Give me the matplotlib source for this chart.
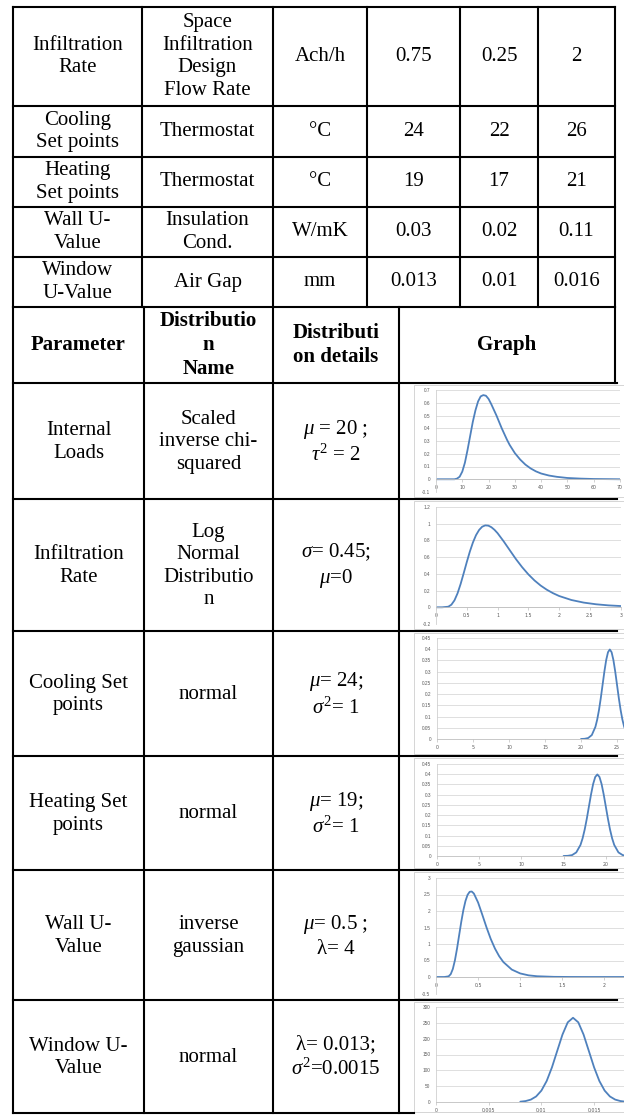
import matplotlib
matplotlib.use('Agg')
import matplotlib.pyplot as plt
from matplotlib.patches import Rectangle

plt.rcParams['mathtext.fontset'] = 'custom'
plt.rcParams['mathtext.rm'] = 'Liberation Serif'
plt.rcParams['mathtext.it'] = 'Liberation Serif:italic'

# ---------------- data ----------------
top_params = ["Infiltration\nRate", "Cooling\nSet points", "Heating\nSet points", "Wall U-\nValue", "Window\nU-Value"]
top_objects = ["Space\nInfiltration\nDesign\nFlow Rate", "Thermostat", "Thermostat", "Insulation\nCond.", "Air Gap"]
top_units = ["Ach/h", "°C", "°C", "W/mK", "mm"]
top_base = ["0.75", "24", "19", "0.03", "0.013"]
top_min = ["0.25", "22", "17", "0.02", "0.01"]
top_max = ["2", "26", "21", "0.11", "0.016"]

header = ["Parameter", "Distributio\nn\nName", "Distributi\non details", "Graph"]
dist_params = ["Internal\nLoads", "Infiltration\nRate", "Cooling Set\npoints", "Heating Set\npoints",
               "Wall U-\nValue", "Window U-\nValue"]
dist_names = ["Scaled\ninverse chi-\nsquared", "Log\nNormal\nDistributio\nn", "normal", "normal",
              "inverse\ngaussian", "normal"]
dist_details = [r"$\mu$ = 20 ;" + "\n" + r"$\tau^2$ = 2",
                r"$\sigma$= 0.45;" + "\n" + r"$\mu$=0",
                r"$\mu$= 24;" + "\n" + r"$\sigma^2$= 1",
                r"$\mu$= 19;" + "\n" + r"$\sigma^2$= 1",
                r"$\mu$= 0.5 ;" + "\n" + "λ= 4",
                "λ= 0.013;" + "\n" + r"$\sigma^2$=0.0015"]

# curves
g1_x = [0, 4, 7, 8, 9, 10, 11, 12, 13, 14, 15, 16, 17, 18, 19, 20, 21, 22, 23, 24, 25, 26, 27, 28,
        30, 32, 34, 36, 38, 40, 43, 46, 50, 55, 60, 65, 70]
g1_y = [0, 0, 0, 0.005, 0.02, 0.06, 0.13, 0.23, 0.34, 0.45, 0.54, 0.61, 0.65, 0.66, 0.655, 0.63, 0.59,
        0.545, 0.5, 0.45, 0.40, 0.355, 0.31, 0.27, 0.205, 0.155, 0.115, 0.085, 0.062, 0.045, 0.029,
        0.019, 0.01, 0.005, 0.002, 0.001, 0]

g2_x = [0, 0.1, 0.2, 0.25, 0.3, 0.35, 0.4, 0.45, 0.5, 0.55, 0.6, 0.65, 0.7, 0.75, 0.8, 0.85, 0.9, 0.95,
        1.0, 1.1, 1.2, 1.3, 1.4, 1.5, 1.6, 1.7, 1.8, 1.9, 2.0, 2.2, 2.4, 2.6, 2.8, 3.0]
g2_y = [0, 0, 0.007, 0.031, 0.083, 0.167, 0.279, 0.408, 0.541, 0.667, 0.776, 0.863, 0.925, 0.964,
        0.980, 0.977, 0.958, 0.927, 0.887, 0.788, 0.681, 0.575, 0.479, 0.394, 0.321, 0.260, 0.210,
        0.169, 0.135, 0.087, 0.056, 0.036, 0.023, 0.015]

g3_x = [20, 20.5, 21, 21.5, 22, 22.25, 22.5, 22.75, 23, 23.25, 23.5, 23.75, 24, 24.25, 24.5, 24.75,
        25, 25.25, 25.5, 25.75, 26, 26.5, 27, 27.5, 28]
g3_y = [0.0001, 0.0009, 0.0044, 0.0175, 0.054, 0.0863, 0.1295, 0.1826, 0.242, 0.3011, 0.3521, 0.3867,
        0.3989, 0.3867, 0.3521, 0.3011, 0.242, 0.1826, 0.1295, 0.0863, 0.054, 0.0175, 0.0044, 0.0009,
        0.0001]

g4_x = [15, 15.5, 16, 16.5, 17, 17.25, 17.5, 17.75, 18, 18.25, 18.5, 18.75, 19, 19.25, 19.5, 19.75,
        20, 20.25, 20.5, 20.75, 21, 21.5, 22, 22.5, 23]
g4_y = [0.0001, 0.0009, 0.0044, 0.0175, 0.054, 0.0863, 0.1295, 0.1826, 0.242, 0.3011, 0.3521, 0.3867,
        0.3989, 0.3867, 0.3521, 0.3011, 0.242, 0.1826, 0.1295, 0.0863, 0.054, 0.0175, 0.0044, 0.0009,
        0.0001]

g5_x = [0, 0.1, 0.15, 0.175, 0.2, 0.225, 0.25, 0.275, 0.3, 0.325, 0.35, 0.375, 0.4, 0.425, 0.45, 0.5,
        0.55, 0.6, 0.65, 0.7, 0.75, 0.8, 0.9, 1.0, 1.1, 1.2, 1.4, 1.6, 1.8, 2.0, 2.5]
g5_y = [0, 0, 0.02, 0.087, 0.244, 0.509, 0.864, 1.269, 1.671, 2.027, 2.304, 2.490, 2.582, 2.590, 2.528,
        2.257, 1.886, 1.503, 1.154, 0.863, 0.631, 0.453, 0.225, 0.108, 0.050, 0.023, 0.005, 0.001, 0, 0, 0]

g6_x = [0.008, 0.0085, 0.009, 0.0095, 0.010, 0.0105, 0.011, 0.0115, 0.012, 0.0125, 0.013, 0.0135,
        0.014, 0.0145, 0.015, 0.0155, 0.016, 0.0165, 0.017, 0.0175, 0.018]
g6_y = [1.0, 2.95, 7.6, 17.5, 36.0, 66.3, 109.3, 161.3, 213, 251.6, 266, 251.6, 213, 161.3, 109.3,
        66.3, 36.0, 17.5, 7.6, 2.95, 1.0]

g1_xticks = [0, 10, 20, 30, 40, 50, 60, 70]
g1_xlabels = ["0", "10", "20", "30", "40", "50", "60", "70"]
g1_yticks = [-0.1, 0, 0.1, 0.2, 0.3, 0.4, 0.5, 0.6, 0.7]
g1_ylabels = ["-0.1", "0", "0.1", "0.2", "0.3", "0.4", "0.5", "0.6", "0.7"]
g2_xticks = [0, 0.5, 1, 1.5, 2, 2.5, 3]
g2_xlabels = ["0", "0.5", "1", "1.5", "2", "2.5", "3"]
g2_yticks = [-0.2, 0, 0.2, 0.4, 0.6, 0.8, 1.0, 1.2]
g2_ylabels = ["-0.2", "0", "0.2", "0.4", "0.6", "0.8", "1", "1.2"]
g3_xticks = [0, 5, 10, 15, 20, 25]
g3_xlabels = ["0", "5", "10", "15", "20", "25"]
g34_yticks = [0, 0.05, 0.1, 0.15, 0.2, 0.25, 0.3, 0.35, 0.4, 0.45]
g34_ylabels = ["0", "0.05", "0.1", "0.15", "0.2", "0.25", "0.3", "0.35", "0.4", "0.45"]
g4_xticks = [0, 5, 10, 15, 20]
g4_xlabels = ["0", "5", "10", "15", "20"]
g5_xticks = [0, 0.5, 1, 1.5, 2]
g5_xlabels = ["0", "0.5", "1", "1.5", "2"]
g5_yticks = [-0.5, 0, 0.5, 1, 1.5, 2, 2.5, 3]
g5_ylabels = ["-0.5", "0", "0.5", "1", "1.5", "2", "2.5", "3"]
g6_xticks = [0, 0.005, 0.01, 0.015]
g6_xlabels = ["0", "0.005", "0.01", "0.015"]
g6_yticks = [0, 50, 100, 150, 200, 250, 300]
g6_ylabels = ["0", "50", "100", "150", "200", "250", "300"]

# ---------------- layout (pixels) ----------------
W, H = 624, 1115
fig = plt.figure(figsize=(W / 100, H / 100), dpi=100)
fig.patch.set_facecolor('white')

bg = fig.add_axes([0, 0, 1, 1], zorder=0)
bg.set_xlim(0, W); bg.set_ylim(H, 0); bg.axis('off')

top_rows = [7, 106, 157, 207, 257, 307]
top_cols = [13, 142, 273, 367, 460, 538, 615]
head_bottom = 383
bot_rows = [383, 499, 631, 756, 870, 1000, 1113]
bot_cols = [13, 144, 273, 399, 615]

SERIF = 'Liberation Serif'
FS = 15
LS = 1.25


def cell_text(x, y, s, bold=False):
    bg.text(x, y, s, ha='center', va='center', ma='center', fontsize=FS, family=SERIF,
            fontweight='bold' if bold else 'normal', linespacing=LS, color='black')


for i in range(5):
    yc = (top_rows[i] + top_rows[i + 1]) / 2
    cols = [top_params[i], top_objects[i], top_units[i], top_base[i], top_min[i], top_max[i]]
    for j, s in enumerate(cols):
        xc = (top_cols[j] + top_cols[j + 1]) / 2
        cell_text(xc, yc, s)

yc = (top_rows[-1] + head_bottom) / 2
for j, s in enumerate(header):
    xc = (bot_cols[j] + bot_cols[j + 1]) / 2
    cell_text(xc, yc, s, bold=True)

for i in range(6):
    yc = (bot_rows[i] + bot_rows[i + 1]) / 2
    for j, s in enumerate([dist_params[i], dist_names[i], dist_details[i]]):
        xc = (bot_cols[j] + bot_cols[j + 1]) / 2
        cell_text(xc, yc + 1, s)

# ---------------- graphs ----------------
graphs = [
    dict(x=g1_x, y=g1_y, xt=g1_xticks, xl=g1_xlabels, yt=g1_yticks, yl=g1_ylabels,
         xlim=(0, 70), ylim=(-0.1, 0.7), l=436, r=620, t=390, b=492, it=385, ib=497),
    dict(x=g2_x, y=g2_y, xt=g2_xticks, xl=g2_xlabels, yt=g2_yticks, yl=g2_ylabels,
         xlim=(0, 3), ylim=(-0.2, 1.2), l=436, r=620.7, t=507, b=624, it=501, ib=629),
    dict(x=g3_x, y=g3_y, xt=g3_xticks, xl=g3_xlabels, yt=g34_yticks, yl=g34_ylabels,
         xlim=(0, 30), ylim=(0, 0.45), l=437, r=653, t=638, b=739, it=633, ib=754),
    dict(x=g4_x, y=g4_y, xt=g4_xticks, xl=g4_xlabels, yt=g34_yticks, yl=g34_ylabels,
         xlim=(0, 25), ylim=(0, 0.45), l=437, r=648, t=764, b=856, it=758, ib=868),
    dict(x=g5_x, y=g5_y, xt=g5_xticks, xl=g5_xlabels, yt=g5_yticks, yl=g5_ylabels,
         xlim=(0, 2.5), ylim=(-0.5, 3), l=436, r=646.5, t=878, b=993.5, it=872, ib=998),
    dict(x=g6_x, y=g6_y, xt=g6_xticks, xl=g6_xlabels, yt=g6_yticks, yl=g6_ylabels,
         xlim=(0, 0.02), ylim=(0, 300), l=436, r=646.8, t=1007, b=1102, it=1002, ib=1112),
]

LBL = dict(labelsize=3.4, labelcolor='#595959')
for g in graphs:
    bg.add_patch(Rectangle((414, g['it']), 240, g['ib'] - g['it'], facecolor='white',
                           edgecolor='#CFCFCF', lw=0.6, zorder=3))
    ax = fig.add_axes([g['l'] / W, 1 - g['b'] / H, (g['r'] - g['l']) / W, (g['b'] - g['t']) / H],
                      zorder=1)
    ax.set_facecolor('none')
    ax.set_xlim(*g['xlim']); ax.set_ylim(*g['ylim'])
    ax.set_xticks(g['xt']); ax.set_xticklabels(g['xl'], family='Liberation Sans')
    ax.set_yticks(g['yt']); ax.set_yticklabels(g['yl'], family='Liberation Sans')
    ax.yaxis.grid(True, color='#D9D9D9', lw=0.6)
    ax.set_axisbelow(True)
    for s in ['top', 'right']:
        ax.spines[s].set_visible(False)
    ax.spines['left'].set_color('#D0D0D0'); ax.spines['left'].set_linewidth(0.6)
    ax.spines['bottom'].set_position(('data', 0))
    ax.spines['bottom'].set_color('#BFBFBF'); ax.spines['bottom'].set_linewidth(0.6)
    ax.tick_params(axis='y', length=0, pad=4, **LBL)
    ax.tick_params(axis='x', length=2, width=0.5, color='#BFBFBF', pad=2.2, **LBL)
    ax.plot(g['x'], g['y'], color='#4F81BD', lw=1.3, solid_capstyle='round')

# ---------------- table lines (on top) ----------------
ov = fig.add_axes([0, 0, 1, 1], zorder=5)
ov.set_xlim(0, W); ov.set_ylim(H, 0); ov.axis('off'); ov.patch.set_alpha(0)
LW = 1.5
for yv in top_rows:
    ov.plot([13, 615], [yv, yv], color='black', lw=LW, solid_capstyle='projecting')
for xv in top_cols:
    ov.plot([xv, xv], [7, 307], color='black', lw=LW)
ov.plot([615, 615], [307, 383], color='black', lw=LW)
for yv in bot_rows[:-1]:
    ov.plot([13, 617], [yv, yv], color='black', lw=LW)
ov.plot([13, 414], [1113, 1113], color='black', lw=LW)
for xv in bot_cols[:-1]:
    ov.plot([xv, xv], [307, 1113], color='black', lw=LW)

fig.savefig('out.png', dpi=100, facecolor='white')
